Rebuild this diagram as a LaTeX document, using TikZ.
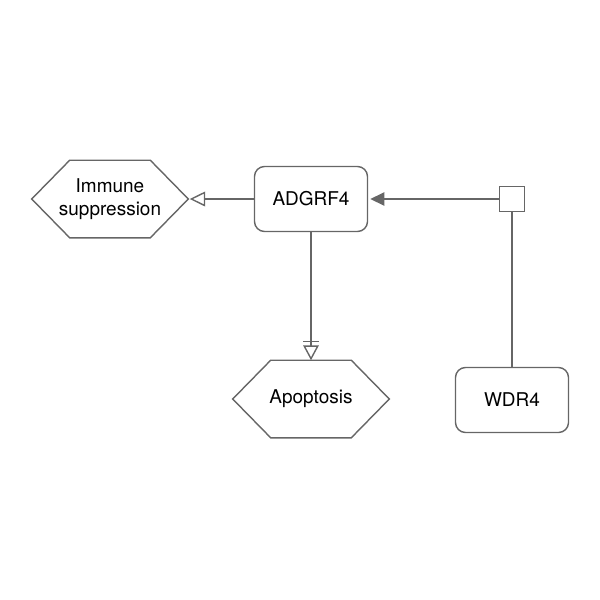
\documentclass[tikz,border=0pt]{standalone}
\usepackage{fontspec}
\setmainfont{TeX Gyre Heros}
\usetikzlibrary{arrows.meta}
\definecolor{linegray}{RGB}{102,102,102}
\tikzset{
  gene/.style={draw=linegray, line width=1pt, rounded corners=0.25cm,
    minimum width=2.825cm, minimum height=1.625cm, inner sep=0pt},
  pheno/.style={minimum width=3.9cm, minimum height=1.925cm, inner sep=0pt, align=center},
  junction/.style={draw=linegray, line width=1pt, minimum size=0.625cm, inner sep=0pt},
  link/.style={draw=linegray, line width=1pt},
}
% esagono attorno a un nodo pheno
\newcommand{\hexaround}[1]{%
  \draw[linegray, line width=1pt] (#1.west) -- ([xshift=0.95cm]#1.north west)
    -- ([xshift=-0.95cm]#1.north east) -- (#1.east)
    -- ([xshift=-0.95cm]#1.south east) -- ([xshift=0.95cm]#1.south west) -- cycle;}
\begin{document}
\begin{tikzpicture}[x=0.025cm, y=-0.025cm, font=\fontsize{13.5}{16}\selectfont]
\useasboundingbox (0,0) rectangle (600,600);
% nodi
\node[gene] (adgrf4) at (311,199) {ADGRF4};
\node[gene] (wdr4) at (512,400) {WDR4};
\node[pheno] (immune) at (110,199) {Immune\\suppression};
\hexaround{immune}
\node[pheno] (apoptosis) at (311,399) {Apoptosis};
\hexaround{apoptosis}
\node[junction] (jn) at (512,199) {};
% WDR4 verso ADGRF4
\draw[link] (wdr4) -- (jn);
\draw[link, -{Triangle[length=10pt, width=9.5pt, fill=linegray]}] (jn) -- ([xshift=1.5pt]adgrf4.east);
% ADGRF4 verso i fenotipi
\draw[link, -{Triangle[open, length=11pt, width=10.5pt]}] (adgrf4) -- ([xshift=1pt]immune.east);
\draw[link, -{Bar[width=11pt, sep=2.5pt] Triangle[open, length=10.5pt, width=11pt]}] (adgrf4) -- (apoptosis.north);
\end{tikzpicture}
\end{document}
